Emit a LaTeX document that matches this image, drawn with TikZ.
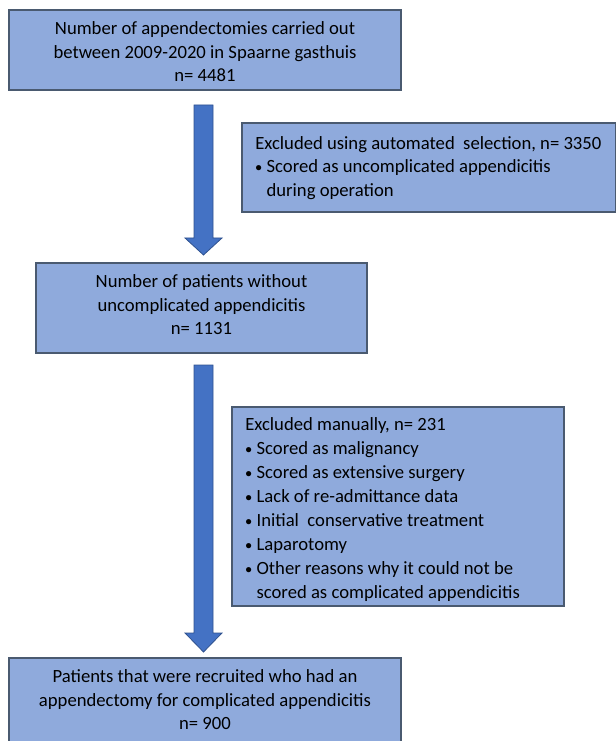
\documentclass[tikz,border=0pt]{standalone}
\usepackage{fontspec}
\setmainfont{Carlito}
\usetikzlibrary{calc}
\definecolor{boxfill}{HTML}{8FAADC}
\definecolor{boxline}{HTML}{4A5A70}
\definecolor{arrfill}{HTML}{4472C4}
\definecolor{arrline}{HTML}{2F528F}
\newcommand{\bul}{\makebox[8.5pt][l]{\raisebox{0.8pt}{\scalebox{0.7}{$\bullet$}}}}
\tikzset{
  box/.style={draw=boxline, line width=0.8pt, fill=boxfill, inner sep=0pt},
  txt/.style={font=\fontsize{14}{17.6}\selectfont, inner sep=0pt},
  txtb/.style={font=\fontsize{14}{18}\selectfont, inner sep=0pt},
  bigarrow/.style={fill=arrfill, draw=arrline, line width=0.6pt}
}
\begin{document}
\begin{tikzpicture}[x=0.75pt,y=-0.75pt]
\useasboundingbox (0,0) rectangle (616,741);
% boxes
\node[box, minimum width=294pt, minimum height=60pt] (b1) at (205,50) {};
\node[box, minimum width=280.5pt, minimum height=66.75pt] (r1) at (429,167.5) {};
\node[box, minimum width=248.25pt, minimum height=67.5pt] (b2) at (201.5,308) {};
\node[box, minimum width=249pt, minimum height=149.25pt] (r2) at (398,506.5) {};
\node[box, minimum width=294pt, minimum height=84pt] (b3) at (205,714) {};
% texts
\node[txt, align=center] (t1) at (205,52) {Number of appendectomies carried out\\between 2009-2020 in Spaarne gasthuis\\n= 4481};
\node[txt, align=left, anchor=north west] (tr1) at (255,136) {Excluded using automated\ \ selection, n= 3350\\\bul Scored as uncomplicated appendicitis\\\hphantom{\bul}during operation};
\node[txt, align=center] (t2) at (201.5,305) {Number of patients without\\uncomplicated appendicitis\\n= 1131};
\node[txtb, align=left, anchor=north west] (tr2) at (245,417) {Excluded manually, n= 231\\\bul Scored as malignancy\\\bul Scored as extensive surgery\\\bul Lack of re-admittance data\\\bul Initial\ \ conservative treatment\\\bul Laparotomy\\\bul Other reasons why it could not be\\\hphantom{\bul}scored as complicated appendicitis};
\node[txt, align=center] (t3) at (205,700) {Patients that were recruited who had an\\appendectomy for complicated appendicitis\\n= 900};
% arrows
\coordinate (a1s) at (203.5,105);
\coordinate (a1e) at (203.5,255);
\coordinate (a2s) at (203.5,365);
\coordinate (a2e) at (203.5,652);
\draw[bigarrow] ($(a1s)+(-9.5,0)$) -- ($(a1s)+(9.5,0)$) -- ($(a1e)+(9.5,-17)$) -- ($(a1e)+(18.5,-17)$) -- (a1e) -- ($(a1e)+(-18.5,-17)$) -- ($(a1e)+(-9.5,-17)$) -- cycle;
\draw[bigarrow] ($(a2s)+(-9.5,0)$) -- ($(a2s)+(9.5,0)$) -- ($(a2e)+(9.5,-19)$) -- ($(a2e)+(18.5,-19)$) -- (a2e) -- ($(a2e)+(-18.5,-19)$) -- ($(a2e)+(-9.5,-19)$) -- cycle;
\end{tikzpicture}
\end{document}
